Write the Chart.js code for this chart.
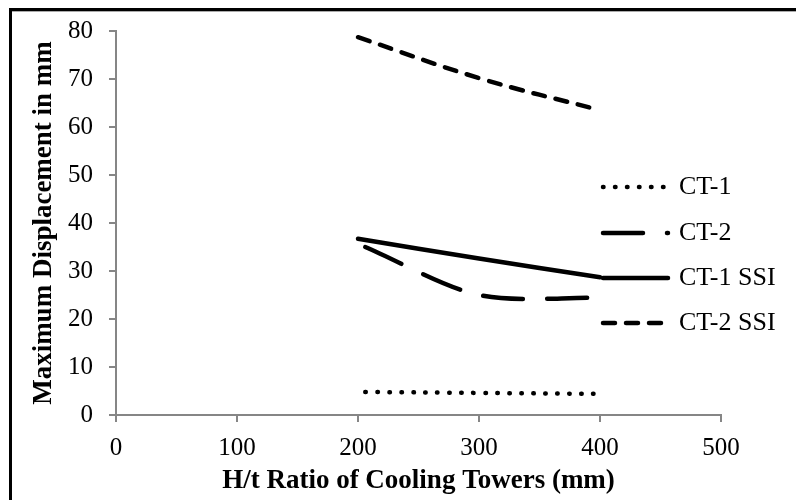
<!DOCTYPE html>
<html>
<head>
<meta charset="utf-8">
<script src="https://cdn.jsdelivr.net/npm/chart.js@4/dist/chart.umd.min.js"></script>
<style>
    body { margin: 0; background: #fff; }
    .wrap { position: relative; width: 796px; height: 500px; overflow: hidden; }
    .frame { position: absolute; left: 9px; top: 8px; width: 800px; height: 490px;
             border-top: 3px solid #000; border-left: 3px solid #000; border-bottom: 1px solid #999; }
    .frame_in { position: absolute; left: 12px; top: 11px; width: 800px; height: 1px; background: #aaa; }
    canvas { position: absolute; left: 0; top: 0; }
</style>
</head>
<body>
<div class="wrap">
    <div class="frame"></div>
    <div class="frame_in"></div>
    <canvas id="chart" width="796" height="500"></canvas>
</div>
<script>
// H/t ratio (x) and max displacement in mm (y)
var ctX = [206, 300, 400];
var ssiX = [200, 300, 400];
var ct1 = [4.8, 4.6, 4.4];
var ct2 = [35.0, 25.0, 24.4];
var ct1Ssi = [36.7, 32.6, 28.7];
var ct2Ssi = [78.7, 70.2, 63.5];
var xTicks = [0, 100, 200, 300, 400, 500];
var yTicks = [0, 10, 20, 30, 40, 50, 60, 70, 80];

var FONT = "'Liberation Serif', 'Times New Roman', serif";

function pts(xs, ys) {
    var out = [];
    for (var i = 0; i < xs.length; i++) out.push({x: xs[i], y: ys[i]});
    return out;
}

var series = [
    {label: 'CT-1', data: pts(ctX, ct1), dash: [0.5, 11.5], tension: 0.4},
    {label: 'CT-2', data: pts(ctX, ct2), dash: [40, 24], tension: 0.3},
    {label: 'CT-1 SSI', data: pts(ssiX, ct1Ssi), dash: [], tension: 0.4},
    {label: 'CT-2 SSI', data: pts(ssiX, ct2Ssi), dash: [12, 11], tension: 0.4}
];

// legend drawn inside the plot, like the original
var sideLegend = {
    id: 'sideLegend',
    afterDatasetsDraw: function(chart) {
        var ctx = chart.ctx;
        var rows = [187, 233, 278, 323];
        ctx.save();
        for (var i = 0; i < series.length; i++) {
            ctx.beginPath();
            ctx.lineWidth = 4.5;
            ctx.lineCap = 'round';
            ctx.strokeStyle = '#000';
            ctx.setLineDash(series[i].dash);
            ctx.moveTo(603, rows[i]);
            ctx.lineTo(668, rows[i]);
            ctx.stroke();
            ctx.setLineDash([]);
            ctx.fillStyle = '#000';
            ctx.font = '26px ' + FONT;
            ctx.textBaseline = 'middle';
            ctx.textAlign = 'left';
            ctx.fillText(series[i].label, 679, rows[i]);
        }
        ctx.restore();
    }
};

var chart = new Chart(document.getElementById('chart'), {
    type: 'line',
    data: {
        datasets: series.map(function(s) {
            return {
                label: s.label,
                data: s.data,
                borderColor: '#000',
                borderWidth: 4.5,
                borderDash: s.dash,
                borderCapStyle: 'round',
                pointRadius: 0,
                tension: s.tension,
                fill: false
            };
        })
    },
    options: {
        responsive: false,
        devicePixelRatio: 1,
        animation: false,
        layout: {padding: {left: 0, top: 31, right: 75, bottom: 0}},
        plugins: {
            legend: {display: false},
            tooltip: {enabled: false}
        },
        scales: {
            x: {
                type: 'linear',
                min: 0,
                max: 500,
                afterBuildTicks: function(scale) {
                    scale.ticks = xTicks.map(function(v) { return {value: v}; });
                },
                afterFit: function(scale) { scale.height = 85; },
                grid: {drawOnChartArea: false, tickLength: 7, color: '#868686', lineWidth: 2},
                border: {color: '#868686', width: 2},
                ticks: {color: '#000', padding: 11, font: {family: FONT, size: 25}},
                title: {
                    display: true,
                    text: 'H/t Ratio of Cooling Towers (mm)',
                    color: '#000',
                    font: {family: FONT, size: 27, weight: 'bold'},
                    padding: {top: 0, bottom: 3}
                }
            },
            y: {
                min: 0,
                max: 80,
                afterBuildTicks: function(scale) {
                    scale.ticks = yTicks.map(function(v) { return {value: v}; });
                },
                afterFit: function(scale) { scale.width = 116; },
                grid: {drawOnChartArea: false, tickLength: 7, color: '#868686', lineWidth: 2},
                border: {color: '#868686', width: 2},
                ticks: {color: '#000', padding: 16, font: {family: FONT, size: 25}},
                title: {
                    display: true,
                    text: 'Maximum Displacement in mm',
                    color: '#000',
                    font: {family: FONT, size: 27, weight: 'bold'},
                    padding: {top: 28, bottom: 0}
                }
            }
        }
    },
    plugins: [sideLegend]
});
</script>
</body>
</html>
